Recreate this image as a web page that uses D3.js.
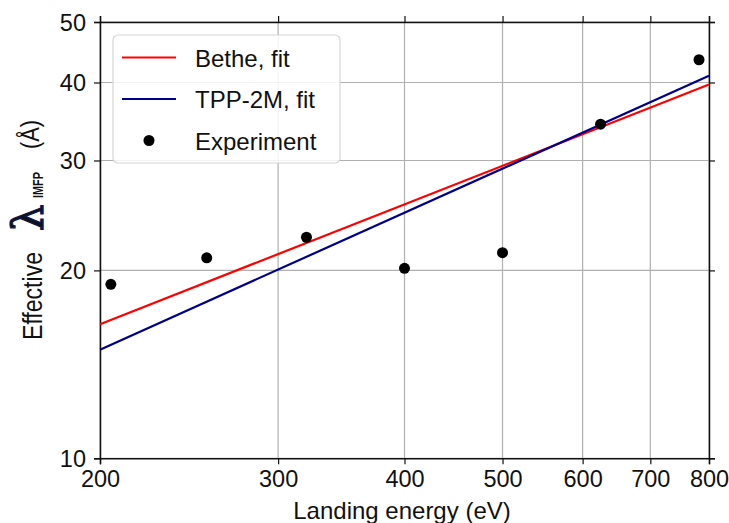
<!DOCTYPE html>
<html>
<head>
<meta charset="utf-8">
<script src="https://cdn.jsdelivr.net/npm/d3@7"></script>
<style>
  body { margin: 0; background: #fff; }
  text { font-family: "Liberation Sans", "DejaVu Sans", sans-serif; fill: #111; }
</style>
</head>
<body>
<div id="chart"></div>
<script>
// Data
var energies   = [205, 255, 320, 400, 500, 625, 782];
var lambdas    = [19.0, 20.95, 22.6, 20.15, 21.35, 34.3, 43.5];
var fitEnergy  = [200, 800];
var betheFit   = [16.4, 39.7];
var tppFit     = [14.93, 41.0];
var xTicks     = [200, 300, 400, 500, 600, 700, 800];
var yTicks     = [10, 20, 30, 40, 50];
var legendKeys = ['Bethe, fit', 'TPP-2M, fit', 'Experiment'];

var chart_width  = 729;
var chart_height = 523;
var margin = { top: 22, left: 100 };
var w = 709 - margin.left;
var h = 458.3 - margin.top;

var svg = d3.select('#chart')
            .append('svg')
            .attr('width', chart_width)
            .attr('height', chart_height);

var g = svg.append('g')
           .attr('transform', 'translate(' + margin.left + ',' + margin.top + ')');

var x = d3.scaleLog().domain([200, 800]).range([0, w]);
var y = d3.scaleLog().domain([10, 50]).range([h, 0]);

// Grid
g.selectAll('line.gx')
 .data(xTicks)
 .enter()
 .append('line')
 .attr('x1', function(d){ return x(d); })
 .attr('x2', function(d){ return x(d); })
 .attr('y1', 0).attr('y2', h)
 .attr('stroke', '#b0b0b0').attr('stroke-width', 1.2);

g.selectAll('line.gy')
 .data(yTicks)
 .enter()
 .append('line')
 .attr('y1', function(d){ return y(d); })
 .attr('y2', function(d){ return y(d); })
 .attr('x1', 0).attr('x2', w)
 .attr('stroke', '#b0b0b0').attr('stroke-width', 1.2);

// Axes on all four sides
var fmt = function(d){ return d; };
var xb = g.append('g').attr('transform', 'translate(0,' + h + ')')
          .call(d3.axisBottom(x).tickValues(xTicks).tickFormat(fmt).tickSize(6).tickPadding(6));
var xt = g.append('g')
          .call(d3.axisTop(x).tickValues(xTicks).tickFormat('').tickSize(6));
var yl = g.append('g')
          .call(d3.axisLeft(y).tickValues(yTicks).tickFormat(fmt).tickSize(6).tickPadding(8));
var yr = g.append('g').attr('transform', 'translate(' + w + ',0)')
          .call(d3.axisRight(y).tickValues(yTicks).tickFormat('').tickSize(6));

[xb, xt, yl, yr].forEach(function(a){
  a.select('.domain').attr('stroke', '#111').attr('stroke-width', 1.5);
  a.selectAll('.tick line').attr('stroke', '#111').attr('stroke-width', 1.2);
  a.selectAll('.tick text').style('font-size', '23.5px').attr('fill', '#111')
   .style('font-family', '"Liberation Sans", sans-serif');
});
yl.selectAll('.tick text').attr('dy', '0.36em');

// Fit lines
var line = d3.line()
             .x(function(d){ return x(d[0]); })
             .y(function(d){ return y(d[1]); });

g.append('path')
 .datum(d3.zip(fitEnergy, betheFit))
 .attr('d', line)
 .attr('fill', 'none')
 .attr('stroke', '#ff0000')
 .attr('stroke-width', 2.2);

g.append('path')
 .datum(d3.zip(fitEnergy, tppFit))
 .attr('d', line)
 .attr('fill', 'none')
 .attr('stroke', '#00008b')
 .attr('stroke-width', 2.2);

// Experiment points
g.selectAll('circle.pt')
 .data(d3.zip(energies, lambdas))
 .enter()
 .append('circle')
 .attr('cx', function(d){ return x(d[0]); })
 .attr('cy', function(d){ return y(d[1]); })
 .attr('r', 5.5)
 .attr('fill', '#000');

// Legend
var lg = svg.append('g').attr('transform', 'translate(113,35)');
lg.append('rect')
  .attr('width', 227).attr('height', 128)
  .attr('rx', 5)
  .attr('fill', '#fff').attr('fill-opacity', 0.85)
  .attr('stroke', '#d6d6d6').attr('stroke-width', 1.2);

var legColors = ['#ff0000', '#00008b', '#000'];
legendKeys.forEach(function(k, i){
  var yy = 22.5 + i * 41.5;
  if (i < 2) {
    lg.append('line')
      .attr('x1', 9).attr('x2', 63)
      .attr('y1', yy).attr('y2', yy)
      .attr('stroke', legColors[i]).attr('stroke-width', 2.2);
  } else {
    lg.append('circle').attr('cx', 36).attr('cy', yy).attr('r', 5.5).attr('fill', '#000');
  }
  lg.append('text')
    .attr('x', 82).attr('y', yy + 9)
    .style('font-size', '24px')
    .text(k);
});

// Axis labels
svg.append('text')
   .attr('x', 402).attr('y', 519)
   .attr('text-anchor', 'middle')
   .style('font-size', '24px')
   .text('Landing energy (eV)');

// y label, rotated; positions along the axis are -page y
var yg = svg.append('g').attr('transform', 'translate(42,0) rotate(-90)');
yg.append('text').attr('x', -340).attr('y', 0)
  .attr('textLength', 88).attr('lengthAdjust', 'spacingAndGlyphs')
  .style('font-size', '27px').text('Effective');
yg.append('text').attr('x', -231).attr('y', 1)
  .style('font-size', '42px')
  .style('font-family', '"DejaVu Serif", serif')
  .attr('fill', '#0a1850')
  .attr('stroke', '#0a1850').attr('stroke-width', 1.3)
  .text('λ');
yg.append('text').attr('x', -198).attr('y', 1)
  .attr('textLength', 26).attr('lengthAdjust', 'spacingAndGlyphs')
  .style('font-size', '15px').style('font-weight', 'bold')
  .attr('fill', '#1d4fa8').text('IMFP');
yg.append('text').attr('x', -149).attr('y', -3)
  .attr('textLength', 29).attr('lengthAdjust', 'spacingAndGlyphs')
  .style('font-size', '25px').text('(Å)');
</script>
</body>
</html>
